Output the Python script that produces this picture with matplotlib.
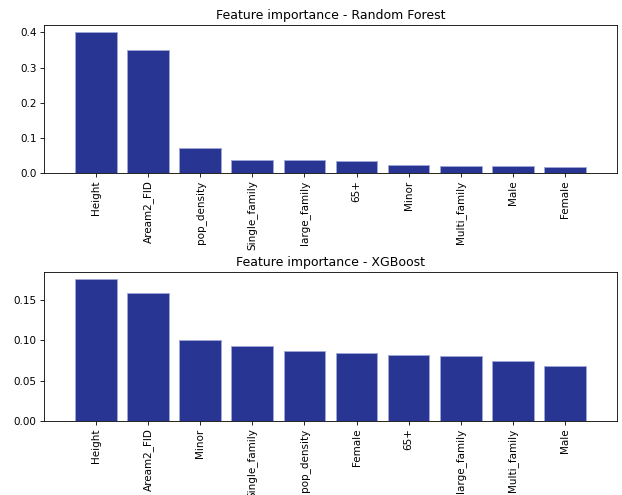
import matplotlib
matplotlib.use("Agg")
import matplotlib.pyplot as plt

rf_features = ["Height", "Aream2_FID", "pop_density", "Single_family", "large_family",
               "65+", "Minor", "Multi_family", "Male", "Female"]
rf_importance = [0.401, 0.351, 0.071, 0.038, 0.036, 0.034, 0.022, 0.020, 0.019, 0.017]

xgb_features = ["Height", "Aream2_FID", "Minor", "Single_family", "pop_density",
                "Female", "65+", "large_family", "Multi_family", "Male"]
xgb_importance = [0.176, 0.159, 0.100, 0.093, 0.087, 0.084, 0.082, 0.080, 0.075, 0.068]

BAR_COLOR = "#283593"
EDGE_COLOR = "#9fa8da"

DPI = 75
fig = plt.figure(figsize=(622 / DPI, 495 / DPI), dpi=DPI)
ax1 = fig.add_axes([0.0707, 0.6505, 0.9212, 0.299])
ax2 = fig.add_axes([0.0707, 0.1495, 0.9212, 0.301])

for ax, feats, vals, title in [
    (ax1, rf_features, rf_importance, "Feature importance - Random Forest"),
    (ax2, xgb_features, xgb_importance, "Feature importance - XGBoost"),
]:
    ax.bar(range(len(vals)), vals, color=BAR_COLOR, edgecolor=EDGE_COLOR, linewidth=0.8)
    ax.set_xticks(range(len(feats)))
    ax.set_xticklabels(feats, rotation=90)
    ax.set_xlim(-1, len(feats))
    ax.set_title(title)

fig.savefig("out.png", dpi=DPI)
